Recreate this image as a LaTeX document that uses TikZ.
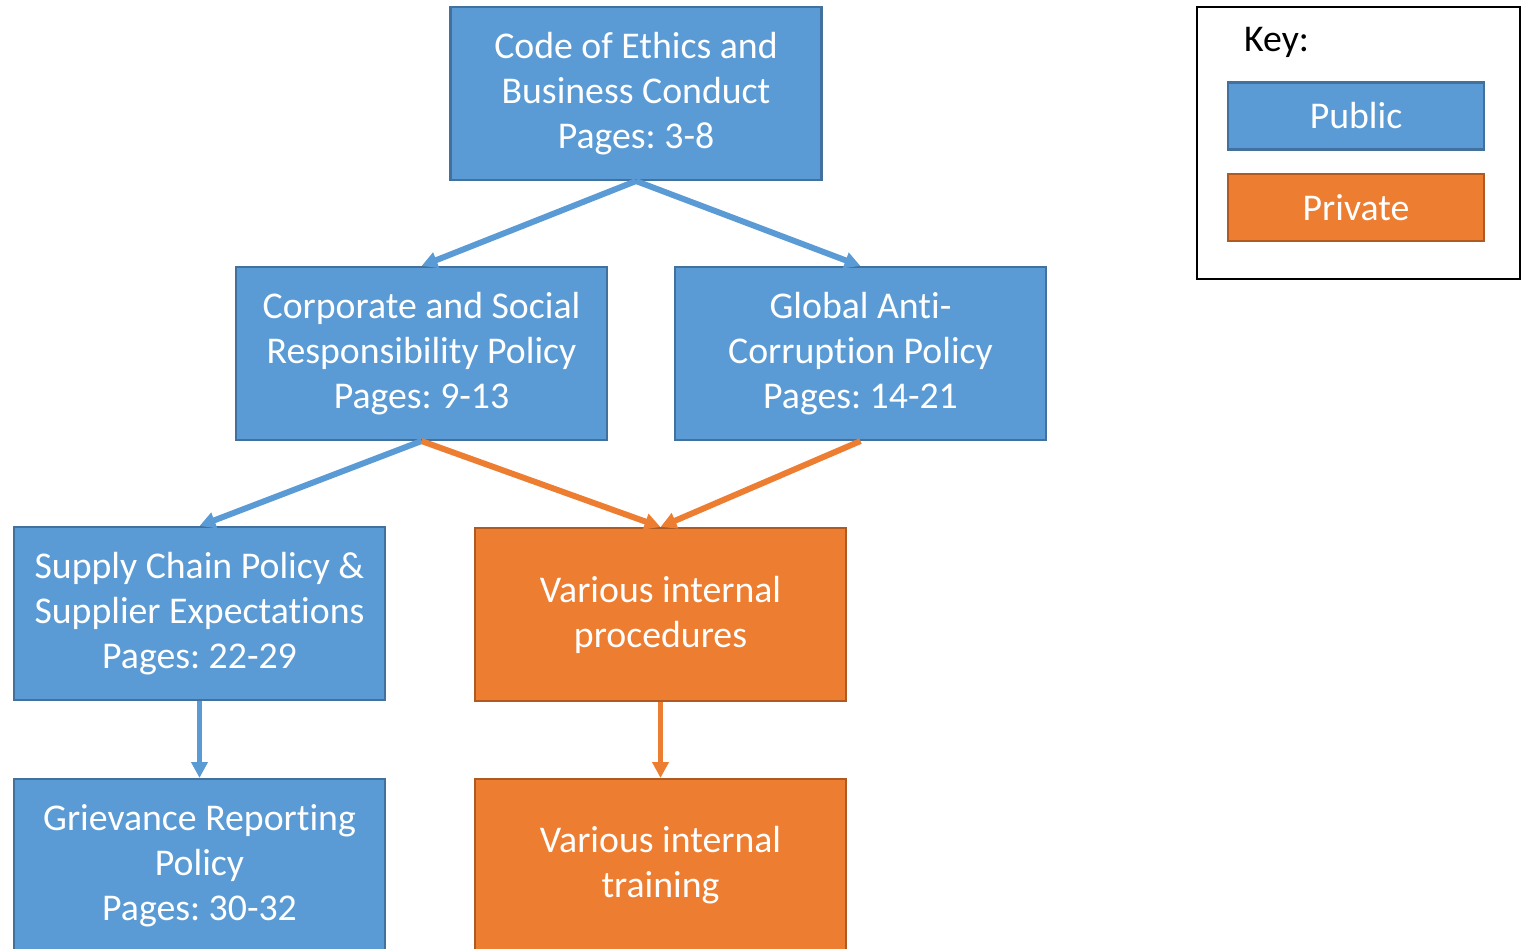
\documentclass[tikz,border=0pt]{standalone}
\usepackage{fontspec}
\setmainfont{Carlito}[Ligatures=NoCommon]
\usetikzlibrary{arrows.meta}
\definecolor{pubblue}{HTML}{5B9BD5}
\definecolor{pubedge}{HTML}{41719C}
\definecolor{privorange}{HTML}{ED7D31}
\definecolor{privedge}{HTML}{AE5A21}
\frenchspacing

\begin{document}
\begin{tikzpicture}[x=0.02cm,y=-0.02cm,>={Triangle[width=9pt,length=9pt]},
  box/.style={draw,line width=1.2pt,minimum width=7.42cm,minimum height=3.46cm,
    align=center,text=white,inner sep=0pt,font=\fontsize{21.5}{25.6}\selectfont},
  pub/.style={box,fill=pubblue,draw=pubedge},
  priv/.style={box,fill=privorange,draw=privedge},
  keybox/.style={minimum width=5.12cm,minimum height=1.34cm},
  publink/.style={->,pubblue,line width=3.4pt},
  privlink/.style={->,privorange,line width=3.4pt}]
  \useasboundingbox (0,0) rectangle (1523,948);

  % policy tree
  \node[pub] (code) at (636,93.5) {Code of Ethics and\\Business Conduct\\Pages: 3-8};
  \node[pub] (csr) at (421.5,353.5) {Corporate and Social\\Responsibility Policy\\Pages: 9-13};
  \node[pub] (anti) at (860.5,353.5) {Global Anti-\\Corruption Policy\\Pages: 14-21};
  \node[pub] (supply) at (199.5,613.5) {Supply Chain Policy \&\\Supplier Expectations\\Pages: 22-29};
  \node[priv] (proc) at (660.5,614.5) {Various internal\\procedures};
  \node[pub] (griev) at (199.5,865.5) {Grievance Reporting\\Policy\\Pages: 30-32};
  \node[priv] (train) at (660.5,865.5) {Various internal\\training};

  \draw[publink] (code.south) -- (csr.north);
  \draw[publink] (code.south) -- (anti.north);
  \draw[publink] (csr.south) -- (supply.north);
  \draw[privlink] (csr.south) -- (proc.north);
  \draw[privlink] (anti.south) -- (proc.north);
  \draw[publink,line width=2.8pt] (supply.south) -- (griev.north);
  \draw[privlink,line width=2.8pt] (proc.south) -- (train.north);

  % key
  \node[draw=black,line width=1.2pt,minimum width=6.46cm,minimum height=5.44cm] (key) at (1358.5,143) {};
  \node[font=\fontsize{21.5}{25.6}\selectfont,anchor=west] (keytitle) at (1238,42) {Key:};
  \node[pub,keybox] (public) at (1356,116) {Public};
  \node[priv,keybox] (private) at (1356,207.5) {Private};
\end{tikzpicture}
\end{document}
